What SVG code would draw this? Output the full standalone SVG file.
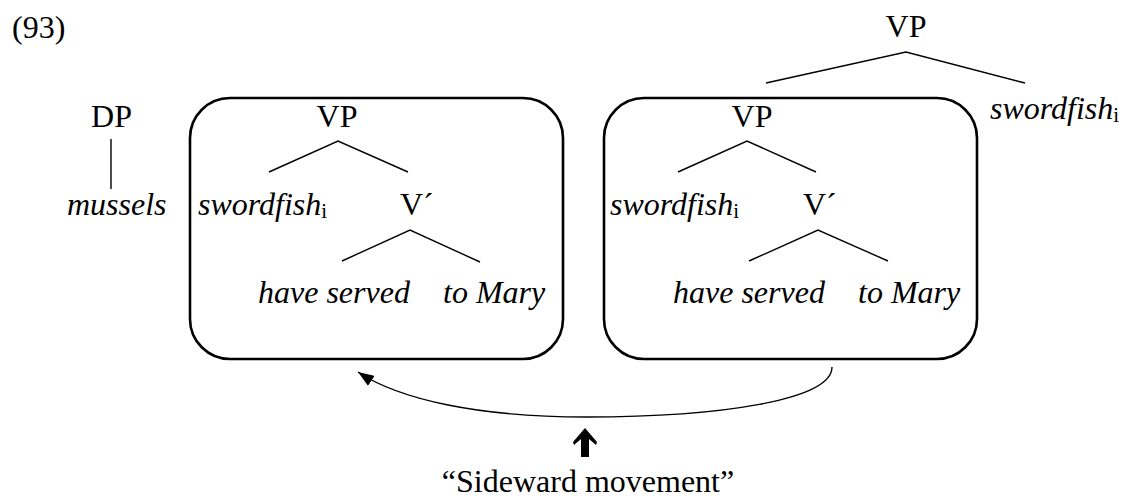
<svg xmlns="http://www.w3.org/2000/svg" width="1123" height="499" viewBox="0 0 1123 499">
<defs>
<style>
text{font-family:"Liberation Serif","Times New Roman",serif;font-size:32px;fill:#000}
.it{font-style:italic}
.sub{font-style:normal;font-size:21px}
.tree{stroke:#000;stroke-width:1.4;fill:none}
.box{stroke:#000;stroke-width:2.6;fill:none}
.conn{stroke:#000;stroke-width:1.4;fill:none}
</style>
<marker id="ah" viewBox="0 0 16 12" refX="16" refY="6" markerWidth="16" markerHeight="12" markerUnits="userSpaceOnUse" orient="auto">
<path d="M0,0 L16,6 L0,12 z" fill="#000"/>
</marker>
</defs>
<rect width="1123" height="499" fill="#fff"/>
<g id="label93"><text x="12" y="38">(93)</text></g>
<g id="dp">
<text x="111.5" y="127" text-anchor="middle">DP</text>
<line class="tree" x1="111" y1="139" x2="111" y2="189"/>
<text class="it" x="67" y="215">mussels</text>
</g>
<g id="box1">
<rect class="box" x="190" y="98" width="373" height="261" rx="40" ry="40"/>
<text x="337" y="127" text-anchor="middle">VP</text>
<polyline class="tree" points="269,172 338,141 408,172"/>
<text class="it" x="198" y="215">swordfish<tspan class="sub" dy="3">i</tspan></text>
<text x="400" y="215">V´</text>
<polyline class="tree" points="342,261 410,230 480,262"/>
<text class="it" x="258" y="303">have served</text>
<text class="it" x="443" y="303">to Mary</text>
</g>
<g id="box2">
<rect class="box" x="604" y="98" width="373" height="261" rx="40" ry="40"/>
<text x="752" y="127" text-anchor="middle">VP</text>
<polyline class="tree" points="678,172 747,141 816,172"/>
<text class="it" x="610" y="215">swordfish<tspan class="sub" dy="3">i</tspan></text>
<text x="803" y="215">V´</text>
<polyline class="tree" points="749,261 818,230 888,261"/>
<text class="it" x="673" y="303">have served</text>
<text class="it" x="858" y="303">to Mary</text>
</g>
<g id="topvp">
<text x="906" y="37" text-anchor="middle">VP</text>
<polyline class="tree" points="766,83 906,52 1025,83"/>
<text class="it" x="990" y="119">swordfish<tspan class="sub" dy="3">i</tspan></text>
</g>
<g id="connectors">
<path class="conn" d="M832,367 C832,400 720,417 586,417 C480,417 400,400 358,372" marker-end="url(#ah)"/>
<polygon points="585,428 597,442 596,445 589,439 589,457 581,457 581,439 574,445 573,442" fill="#000"/>
</g>
<g id="caption"><text x="588" y="492" text-anchor="middle">“Sideward movement”</text></g>
</svg>
